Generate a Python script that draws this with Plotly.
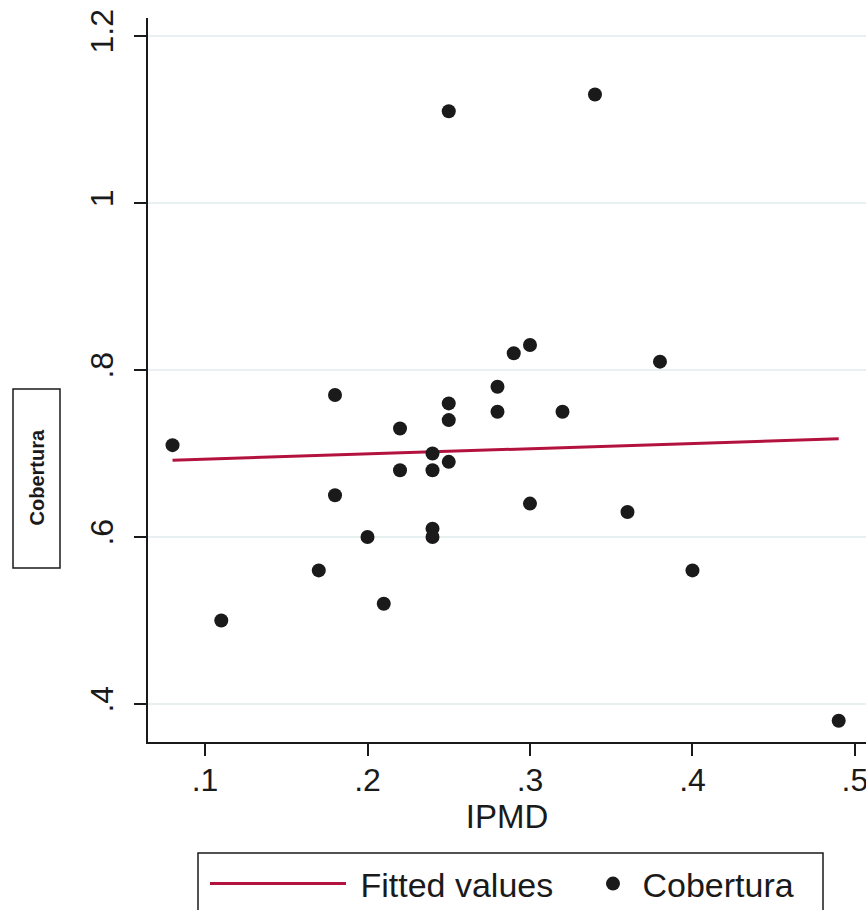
import numpy as np
import plotly.graph_objects as go

# IPMD (x) and Cobertura (y) observations
ipmd = [0.08, 0.11, 0.17, 0.18, 0.18, 0.20, 0.21, 0.22, 0.22, 0.24, 0.24, 0.24, 0.24, 0.25,
        0.25, 0.25, 0.25, 0.28, 0.28, 0.29, 0.30, 0.30, 0.32, 0.34, 0.36, 0.38, 0.40, 0.49]
cobertura = [0.71, 0.50, 0.56, 0.77, 0.65, 0.60, 0.52, 0.73, 0.68, 0.70, 0.68, 0.61, 0.60, 0.69,
             0.74, 0.76, 1.11, 0.78, 0.75, 0.82, 0.83, 0.64, 0.75, 1.13, 0.63, 0.81, 0.56, 0.38]

x_ticks = [0.1, 0.2, 0.3, 0.4, 0.5]
x_labels = [".1", ".2", ".3", ".4", ".5"]
y_ticks = [0.4, 0.6, 0.8, 1.0, 1.2]
y_labels = [".4", ".6", ".8", "1", "1.2"]

# Linear fit (fitted values), drawn over the observed x span
slope, intercept = np.polyfit(ipmd, cobertura, 1)
fit_x = np.array([min(ipmd), max(ipmd)])
fit_y = intercept + slope * fit_x

FONT = "Liberation Sans, Arial, sans-serif"
INK = "#1a1a1a"
NBSP = "\u00a0"
W, H = 866, 910
L, R, T, B = 148, 0, 18, 168
pw, ph = W - L - R, H - T - B


def px_to_paper_x(px):
    return (px - L) / pw


def py_to_paper_y(py):
    return (H - B - py) / ph


fig = go.Figure()
fig.add_trace(go.Scatter(
    x=fit_x, y=fit_y, mode="lines", name=NBSP + "Fitted values",
    line=dict(color="#B4123E", width=3),
    legend="legend",
))
fig.add_trace(go.Scatter(
    x=ipmd, y=cobertura, mode="markers", name=NBSP + "Cobertura",
    marker=dict(color=INK, size=14, symbol="circle"),
    legend="legend2",
))

legend_common = dict(
    orientation="h", xanchor="left", yanchor="middle",
    bgcolor="rgba(0,0,0,0)", borderwidth=0,
    font=dict(size=34, family=FONT, color=INK),
)

fig.update_layout(
    width=W, height=H,
    margin=dict(l=L, r=R, t=T, b=B, autoexpand=False),
    paper_bgcolor="white", plot_bgcolor="white",
    font=dict(family=FONT, color=INK),
    showlegend=True,
    legend=dict(legend_common, x=px_to_paper_x(205), y=py_to_paper_y(884), itemwidth=136),
    legend2=dict(legend_common, x=px_to_paper_x(593), y=py_to_paper_y(884), itemwidth=30),
    xaxis=dict(
        range=[0.0649, 0.5068],
        tickvals=x_ticks, ticktext=x_labels,
        ticks="outside", ticklen=12, tickwidth=2, tickcolor=INK,
        showline=True, linecolor=INK, linewidth=2,
        showgrid=False, zeroline=False,
        tickfont=dict(size=32),
        ticklabeloverflow="allow",
        ticklabelstandoff=-3,
        title=dict(text="IPMD", font=dict(size=33), standoff=0),
    ),
    yaxis=dict(
        range=[0.3545, 1.2216],
        tickvals=y_ticks, ticktext=y_labels, tickangle=-90,
        ticks="outside", ticklen=12, tickwidth=2, tickcolor=INK,
        showline=True, linecolor=INK, linewidth=2,
        showgrid=True, gridcolor="#E8F0F1", gridwidth=2,
        zeroline=False,
        tickfont=dict(size=32),
        ticklabeloverflow="allow",
        ticklabelstandoff=8,
    ),
    shapes=[
        # boxed y-axis title
        dict(type="rect", xref="paper", yref="paper",
             x0=px_to_paper_x(13), x1=px_to_paper_x(60),
             y0=py_to_paper_y(568), y1=py_to_paper_y(389),
             line=dict(color=INK, width=1.5), fillcolor="white", layer="above"),
        # legend frame
        dict(type="rect", xref="paper", yref="paper",
             x0=px_to_paper_x(198), x1=px_to_paper_x(823),
             y0=py_to_paper_y(940), y1=py_to_paper_y(853),
             line=dict(color=INK, width=1.5), fillcolor="rgba(0,0,0,0)", layer="below"),
    ],
    annotations=[dict(
        text="<b>Cobertura</b>", xref="paper", yref="paper",
        x=px_to_paper_x(36.5), y=py_to_paper_y(478),
        showarrow=False, textangle=-90, font=dict(size=20, family=FONT, color=INK),
        xanchor="center", yanchor="middle",
    )],
)

fig.write_html("out.html")
